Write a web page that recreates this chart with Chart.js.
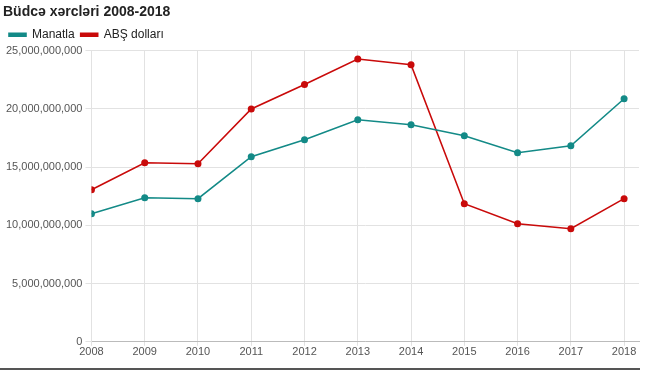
<!DOCTYPE html>
<html>
<head>
<meta charset="utf-8">
<script src="https://cdn.jsdelivr.net/npm/chart.js@4.4.1/dist/chart.umd.min.js"></script>
<style>
  html, body { margin: 0; padding: 0; background: #fff; }
  #wrap { position: relative; width: 643px; height: 367px; }
  #rule { position: absolute; left: 0; top: 368px; width: 640px; height: 2px; background: #555; }
</style>
</head>
<body>
<div id="wrap"><canvas id="grafik"></canvas></div>
<div id="rule"></div>
<script>
// DATA
const illər = [2008, 2009, 2010, 2011, 2012, 2013, 2014, 2015, 2016, 2017, 2018];
const manatla = [11.0e9, 12.37e9, 12.29e9, 15.9e9, 17.35e9, 19.07e9, 18.65e9, 17.7e9, 16.24e9, 16.84e9, 20.88e9];
const dollarla = [13.06e9, 15.38e9, 15.3e9, 20.0e9, 22.1e9, 24.3e9, 23.8e9, 11.86e9, 10.14e9, 9.71e9, 12.3e9];
const yTicks = [0, 5e9, 10e9, 15e9, 20e9, 25e9];

const TEAL = "#138a87";
const RED = "#c90a0a";

const nöqtələr = (arr) => arr.map((v, i) => ({ x: illər[i], y: v }));

new Chart(document.getElementById("grafik"), {
  type: "line",
  data: {
    datasets: [
      {
        label: "Manatla",
        data: nöqtələr(manatla),
        borderColor: TEAL,
        backgroundColor: TEAL,
        borderWidth: 1.6,
        pointRadius: 3.5,
        pointBackgroundColor: TEAL,
        pointBorderWidth: 0,
        tension: 0,
      },
      {
        label: "ABŞ dolları",
        data: nöqtələr(dollarla),
        borderColor: RED,
        backgroundColor: RED,
        borderWidth: 1.6,
        pointRadius: 3.5,
        pointBackgroundColor: RED,
        pointBorderWidth: 0,
        tension: 0,
      },
    ],
  },
  options: {
    responsive: true,
    maintainAspectRatio: false,
    animation: false,
    layout: { padding: { left: 3, right: 0, top: 0, bottom: 8 } },
    plugins: {
      title: {
        display: true,
        text: "Büdcə xərcləri 2008-2018",
        align: "start",
        color: "#222",
        font: { family: "Liberation Sans, Arial, sans-serif", size: 14, weight: "bold" },
        padding: { top: 4, bottom: 2 },
      },
      legend: {
        align: "start",
        labels: {
          boxWidth: 17,
          boxHeight: 3,
          color: "#222",
          padding: 6,
          font: { family: "Liberation Sans, Arial, sans-serif", size: 12 },
        },
      },
      tooltip: { enabled: false },
    },
    scales: {
      x: {
        type: "linear",
        min: illər[0],
        max: illər[illər.length - 1] + 0.28,
        ticks: {
          stepSize: 1,
          includeBounds: false,
          color: "#555",
          padding: 0,
          font: { family: "Liberation Sans, Arial, sans-serif", size: 11 },
          callback: (v) => String(v),
        },
        grid: { color: "#e2e2e2", tickLength: 4 },
        border: { color: "#bbb" },
      },
      y: {
        min: 0,
        max: yTicks[yTicks.length - 1],
        afterBuildTicks: (axis) => { axis.ticks = yTicks.map((v) => ({ value: v })); },
        ticks: {
          color: "#555",
          padding: 3,
          font: { family: "Liberation Sans, Arial, sans-serif", size: 11 },
          callback: (v) => v.toLocaleString("en-US"),
        },
        grid: { color: "#e2e2e2", tickLength: 6 },
        border: { color: "#e2e2e2" },
      },
    },
  },
});
</script>
</body>
</html>
